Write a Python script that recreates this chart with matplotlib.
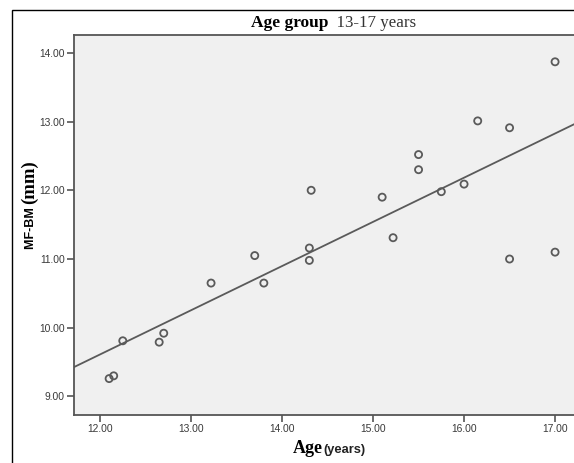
import numpy as np
import matplotlib
matplotlib.use('Agg')
import matplotlib.pyplot as plt
from matplotlib.patches import Rectangle

# Data
age = [12.10, 12.15, 12.25, 12.65, 12.70, 13.22, 13.70, 13.80, 14.30, 14.30, 14.32,
       15.10, 15.22, 15.50, 15.50, 15.75, 16.00, 16.15, 16.50, 16.50, 17.00, 17.00]
mfbm = [9.26, 9.30, 9.81, 9.79, 9.92, 10.65, 11.05, 10.65, 11.16, 10.98, 12.00,
        11.90, 11.31, 12.52, 12.30, 11.98, 12.09, 13.01, 12.91, 11.00, 13.87, 11.10]
xticks = [12, 13, 14, 15, 16, 17]
yticks = [9, 10, 11, 12, 13, 14]

W, H = 574, 463
fig = plt.figure(figsize=(W / 100, H / 100), dpi=100)
fig.patch.set_facecolor('white')

# outer frame
fig.patches.append(Rectangle((12 / W, -0.05), 1.2, 1.05 - 10 / H, transform=fig.transFigure,
                             fill=False, edgecolor='black', linewidth=1.0))

left, right, top, bottom = 74, 576, 35, 415
ax = fig.add_axes([left / W, 1 - bottom / H, (right - left) / W, (bottom - top) / H])
ax.set_facecolor('#f0f0f0')

ax.scatter(age, mfbm, s=26, facecolors='none', edgecolors='#5a5a5a', linewidths=1.3, zorder=3)
coef = np.polyfit(age, mfbm, 1)
xs = np.array([11.70, 17.30])
ax.plot(xs, np.polyval(coef, xs), color='#5a5a5a', linewidth=1.3, zorder=2)

ax.set_xlim(11.714, 17.23)
ax.set_ylim(8.73, 14.26)
ax.set_xticks(xticks)
ax.set_yticks(yticks)
ax.set_xticklabels([f"{v:.2f}" for v in xticks])
ax.set_yticklabels([f"{v:.2f}" for v in yticks])
ax.tick_params(direction='out', length=5, width=1.2, color='#555555',
               labelsize=7.4, labelcolor='#3a3a3a', pad=1.5)
for lbl in ax.get_xticklabels() + ax.get_yticklabels():
    lbl.set_family('Liberation Sans')
for s in ['left', 'bottom', 'top']:
    ax.spines[s].set_color('#555555')
    ax.spines[s].set_linewidth(1.3)
ax.spines['right'].set_visible(False)

r = fig.canvas.get_renderer()


def hconcat(parts, x0, baseline_y):
    """Place text pieces side by side starting at pixel x0 with given baseline pixel y."""
    x = x0
    for s, kw in parts:
        t = fig.text(x / W, 1 - baseline_y / H, s, ha='left', va='baseline', **kw)
        x += t.get_window_extent(r).width


def vconcat(parts, y0, baseline_x):
    """Rotated text pieces going upward from pixel y0 (bottom)."""
    y = y0
    for s, kw in parts:
        t = fig.text(baseline_x / W, 1 - y / H, s, ha='left', va='baseline',
                     rotation=90, rotation_mode='anchor', **kw)
        y -= t.get_window_extent(r).height


hconcat([("Age group", dict(family='Liberation Serif', weight='bold', size=12.5, color='black')),
         ("  13-17 years", dict(family='Liberation Serif', size=12.2, color='#333333'))],
        251, 27)

hconcat([("Age", dict(family='Liberation Serif', weight='bold', size=13, color='black')),
         ("(years)", dict(family='Liberation Sans', weight='bold', size=9.3, color='#222222'))],
        293, 453)

vconcat([("MF-BM ", dict(family='Liberation Sans', weight='bold', size=9, color='black')),
         ("(mm)", dict(family='Liberation Serif', weight='bold', size=13.5, color='black'))],
        249, 34)

fig.savefig('out.png', dpi=100)
